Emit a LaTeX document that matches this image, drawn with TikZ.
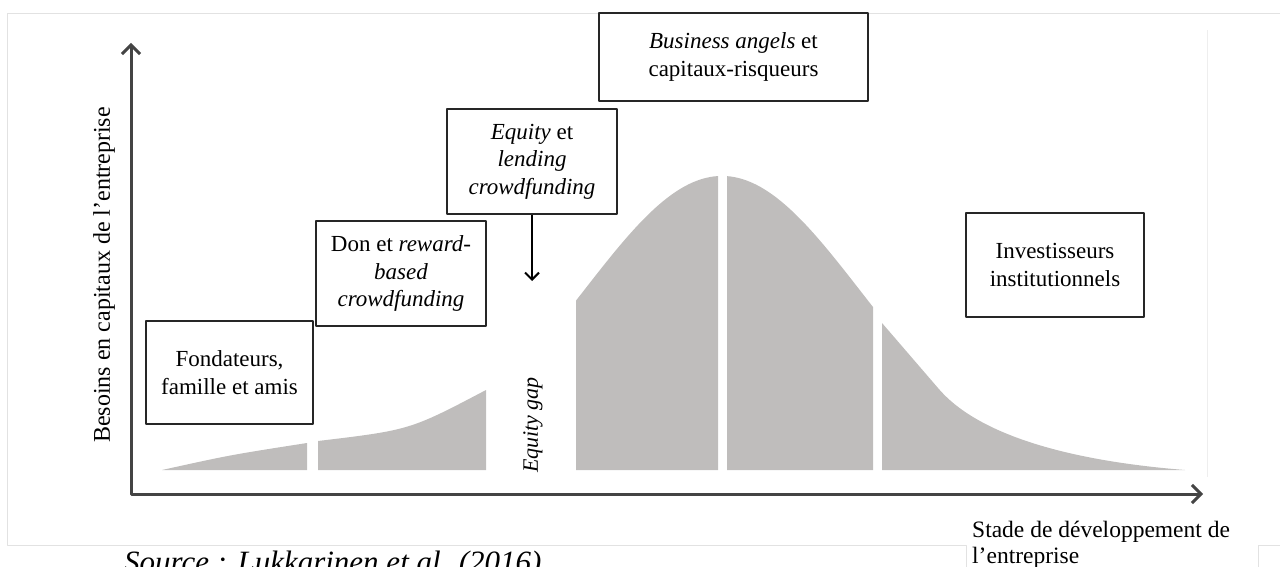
\documentclass[tikz,border=0pt]{standalone}
\usepackage{fontspec}
\setmainfont{Liberation Serif}
\usetikzlibrary{arrows.meta}
\definecolor{bellgray}{RGB}{191,189,188}
\definecolor{axisgray}{RGB}{68,68,68}
\definecolor{framegray}{RGB}{226,226,226}
\tikzset{
  fundbox/.style={draw=black!85, line width=1.4pt, align=center, inner sep=0pt,
    font=\fontsize{23}{27.5}\selectfont},
  barb/.tip={Straight Barb[length=9pt,width=18pt]},
}
\begin{document}
\begin{tikzpicture}[x=1pt,y=-1pt,line join=round,
  declare function={bell(\x)=294*exp(-0.5*((\x-722)/139)*((\x-722)/139));}]
\useasboundingbox (0,0) rectangle (1280,567);
\coordinate (O) at (131,494);
\coordinate (Ytop) at (131,43);
\coordinate (Xend) at (1203,494);
\coordinate (gaptop) at (532,281);
% cadre
\draw[framegray, line width=1pt] (1280,14)--(7,14)--(7,545)--(966,545)--(966,567) (1258,567)--(1258,545)--(1280,545);
\draw[framegray!60, line width=0.8pt] (1207,30)--(1207,477);
% phases
\fill[bellgray] (162,470) .. controls (230,455) .. (307,443) -- (307,470) -- cycle;
\fill[bellgray] (318,470) -- (318,441) .. controls (410,430) .. (486,390) -- (486,470) -- cycle;
\foreach \a/\b in {576/718,727/873}
  \fill[bellgray] (\a,470) -- plot[smooth,samples=40,domain=\a:\b] (\x,{470-bell(\x)}) -- (\b,470) -- cycle;
\fill[bellgray] (882,470) -- (882,323) -- (938,388) .. controls (975,432) and (1060,460) .. (1185,470) -- cycle;
\draw[axisgray, line width=3pt, barb-barb] (Ytop) -- (O) -- (Xend);
\node[rotate=90, font=\fontsize{24}{28}\selectfont] (ylab) at (104,275) {Besoins en capitaux de l’entreprise};
\node[anchor=north west, align=left, inner sep=0pt, font=\fontsize{23.5}{26}\selectfont] (xlab) at (972,521) {Stade de développement de\\l’entreprise};
\node[rotate=90, font=\itshape\fontsize{22}{26}\selectfont] (gap) at (533,425) {Equity gap};
\node[anchor=base west, inner sep=0pt, font=\itshape\fontsize{31}{36}\selectfont] (src) at (124,572) {Source : Lukkarinen et al. (2016)};
\node[fundbox, minimum width=167pt, minimum height=103pt] (fond) at (229.5,372.5) {Fondateurs,\\famille et amis};
\node[fundbox, minimum width=170pt, minimum height=105pt] (don) at (401,273.5) {Don et \textit{reward-}\\\textit{based}\\\textit{crowdfunding}};
\node[fundbox, minimum width=170pt, minimum height=105pt] (eqcf) at (532,161.5) {\textit{Equity} et\\\textit{lending}\\\textit{crowdfunding}};
\node[fundbox, minimum width=269pt, minimum height=88pt] (angels) at (733.5,57) {\textit{Business angels} et\\capitaux-risqueurs};
\node[fundbox, minimum width=178pt, minimum height=104pt] (instit) at (1055,265) {Investisseurs\\institutionnels};
\draw[black, line width=2pt, -{Straight Barb[length=7pt,width=14pt]}] (eqcf) -- (gaptop);
\end{tikzpicture}
\end{document}
